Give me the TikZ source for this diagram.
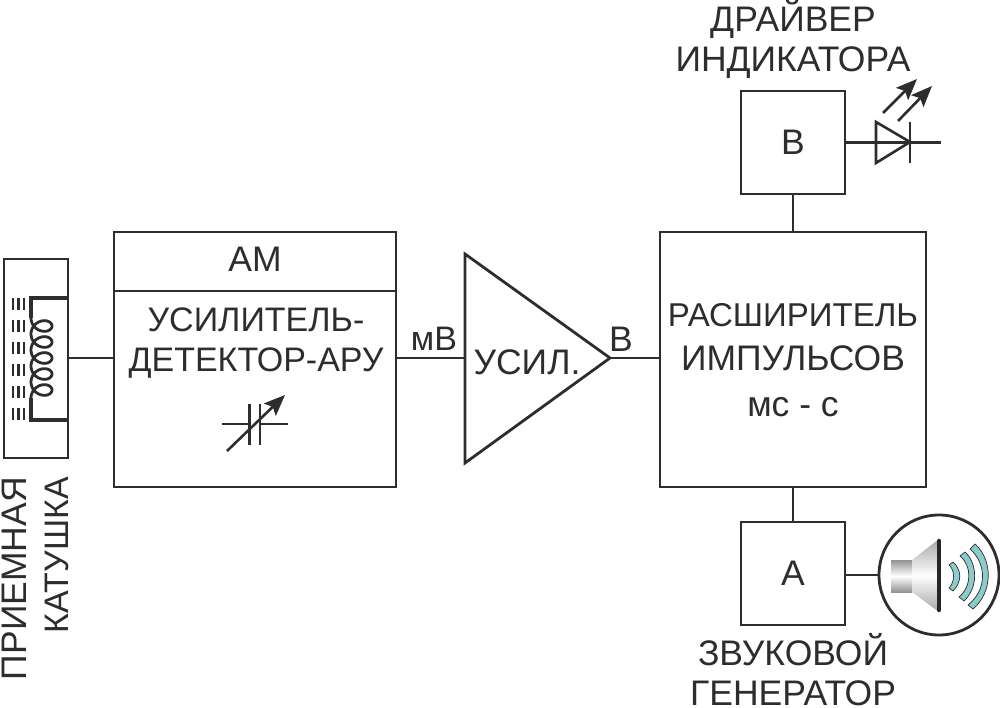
\documentclass[tikz,border=0pt]{standalone}
\usepackage{fontspec}
\setmainfont{Liberation Sans}
\usepackage{tikz}
\usetikzlibrary{arrows.meta}
\definecolor{ink}{RGB}{45,45,45}
\definecolor{wave}{RGB}{140,203,203}
\tikzset{
    box/.style={draw=ink, line width=2.8pt, fill=white, inner sep=0pt},
    wire/.style={draw=ink, line width=2.6pt},
    label/.style={text=ink, inner sep=0pt, align=center, font=\fontsize{35.5}{40}\selectfont},
    tight/.style={text=ink, inner sep=0pt, align=center, font=\fontsize{34}{40}\selectfont},
    tip/.style={-{Stealth[length=21pt, width=17pt, inset=4pt]}}
}
\begin{document}
\begin{tikzpicture}[x=1pt, y=-1pt]
    \useasboundingbox (0,0) rectangle (1000,708);
    % blocks
    \node [box, minimum width=64pt, minimum height=199pt] (coil) at (36,358.5) {};
    \node [box, minimum width=282pt, minimum height=255pt] (det) at (255,359.5) {};
    \node [box, minimum width=266pt, minimum height=255pt] (ext) at (793,359.5) {};
    \node [box, minimum width=104pt, minimum height=103pt] (drv) at (793,142.5) {};
    \node [box, minimum width=104pt, minimum height=103pt] (gen) at (793,573.5) {};
    \node [box, circle, minimum size=120pt] (spk) at (939,575) {};
    \coordinate (ampa) at (465,254);
    \coordinate (ampb) at (465,463);
    \coordinate (ampin) at (465,358);
    \coordinate (amptip) at (610,358);
    \coordinate (detl) at (114,291);
    \coordinate (detr) at (396,291);
    \coordinate (coilout) at (68,358);
    \coordinate (detin) at (114,358);
    \coordinate (detout) at (396,358);
    \coordinate (extin) at (660,358);
    \coordinate (ledout) at (941,142.5);
    \draw [box] (ampa) -- (amptip) -- (ampb) -- cycle;
    \draw [box] (detl) -- (detr);
    % connectors
    \draw [wire] (coilout) -- (detin);
    \draw [wire] (detout) -- (ampin);
    \draw [wire] (amptip) -- (extin);
    \draw [wire] (ext.north) -- (drv.south);
    \draw [wire] (ext.south) -- (gen.north);
    \draw [wire] (gen.east |- spk.west) -- (spk.west);
    \draw [wire] (drv.east) -- (ledout);
    % receiving coil
    \draw [ink, line width=3.4pt] (68,298) -- (31,298) -- (31,318);
    \draw [ink, line width=3.4pt] (31,398) -- (31,420) -- (68,420);
    \draw [ink, line width=2.8pt] plot [smooth, samples=180, domain=0:1800] ({41.5-10.5*cos(\x)}, {318+\x/360*16+9*sin(\x)});
    \foreach \y in {298,320,342,364,386,408}
        \foreach \x in {13,18.5,24}
            \draw [ink, line width=2.2pt] (\x,\y) -- (\x,\y+12);
    % tuning capacitor
    \draw [wire] (222,424) -- (249.5,424) (260,424) -- (288,424);
    \draw [wire] (249.5,404) -- (249.5,445) (260,404) -- (260,445);
    \draw [wire, tip] (227,451) -- (285,395);
    % led
    \draw [wire, line join=miter] (876,122) -- (910,142) -- (876,163) -- cycle;
    \draw [wire] (910,122) -- (910,163);
    \draw [wire, tip] (883,113) -- (917,79);
    \draw [wire, tip] (898,121) -- (932,86);
    % loudspeaker
    \shade [top color=gray!85, bottom color=gray!85, middle color=white] (891,560) rectangle (912,592);
    \shade [top color=gray!70, bottom color=gray!70, middle color=white] (912,560) -- (939,539) -- (939,612) -- (912,592) -- cycle;
    \draw [black!85, line width=4.5pt, line cap=round] (939,541) -- (939,610);
    \draw [ink, fill=wave, line width=0.7pt] (949,565) .. controls (955,570) and (955,582) .. (949,588) -- (953,591) .. controls (962,582) and (962,570) .. (953,562) -- cycle;
    \draw [ink, fill=wave, line width=0.7pt] (960,556) .. controls (972,566) and (972,586) .. (959,597) -- (964,601) .. controls (978,588) and (978,564) .. (965,552) -- cycle;
    \draw [ink, fill=wave, line width=0.7pt] (970,549) .. controls (987,564) and (987,590) .. (968,605) -- (973,609) .. controls (993,592) and (993,560) .. (975,544) -- cycle;
    % labels
    \node [label, rotate=90, anchor=east] (l1) at (14,477) {ПРИЕМНАЯ};
    \node [tight, rotate=90, anchor=east] (l2) at (57,477) {КАТУШКА};
    \node [label] (l3) at (255,259) {АМ};
    \node [tight] (l4) at (256,343) {УСИЛИТЕЛЬ-\\ДЕТЕКТОР-АРУ};
    \node [tight] (l5) at (434,339) {мВ};
    \node [label] (l6) at (527,362) {УСИЛ.};
    \node [label] (l7) at (621,339) {В};
    \node [tight, font=\fontsize{33}{40}\selectfont] (l8) at (793,315) {РАСШИРИТЕЛЬ};
    \node [label] (l9) at (793,358) {ИМПУЛЬСОВ};
    \node [label] (l10) at (793,407) {мс - с};
    \node [label] (l11) at (793,142) {В};
    \node [label] (l12) at (793,573) {А};
    \node [label] (l13) at (793,39) {ДРАЙВЕР\\ИНДИКАТОРА};
    \node [label] (l14) at (793,670) {ЗВУКОВОЙ\\ГЕНЕРАТОР};
\end{tikzpicture}
\end{document}
